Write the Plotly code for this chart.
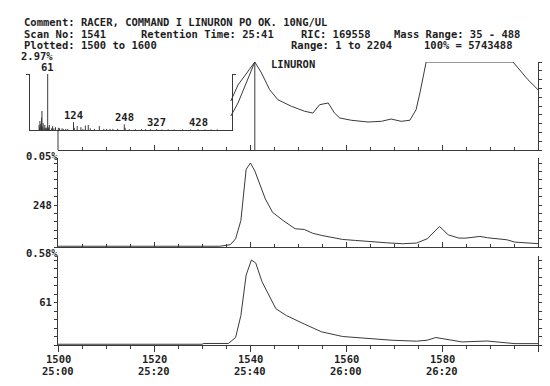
import plotly.graph_objects as go

# ---------------- data ----------------
header_line1 = ["Comment: RACER, COMMAND I LINURON PO OK. 10NG/UL"]
header_line2 = ["Scan No: 1541", "Retention Time: 25:41", "RIC: 169558", "Mass Range: 35 - 488"]
header_line3 = ["Plotted: 1500 to 1600", "Range: 1 to 2204", "100% = 5743488"]

scan_ticks = [1500, 1520, 1540, 1560, 1580]
time_ticks = ["25:00", "25:20", "25:40", "26:00", "26:20"]

marker_scan = 1541
compound_label = "LINURON"

# RIC (top panel), % of full scale; part hidden behind the spectrum inset is not drawn
ric_edge_a_scan = [1536.0, 1537.5, 1541.0]
ric_edge_a_pct = [55.7, 73.9, 100]
ric_edge_b_scan = [1536.0, 1537.5, 1541.0]
ric_edge_b_pct = [38.6, 53.4, 100]
ric_scan = [1541.0, 1542.4, 1544.1, 1545.8, 1548.6, 1551.4, 1553.1, 1554.5, 1556.3, 1557.6,
            1558.7, 1561.1, 1564.6, 1567.4, 1569.4, 1571.5, 1573.3, 1574.6, 1575.4, 1576.7,
            1594.8, 1596.5, 1597.9, 1600.0]
ric_pct = [100, 87.5, 68.5, 57.2, 49.7, 44.0, 42.0, 51.5, 53.4, 42.0,
           36.4, 33.8, 31.8, 32.6, 35.2, 32.6, 33.8, 45.8, 64.8, 100,
           100, 89.4, 79.9, 68.5]

# ion 248 (middle panel)
ion248_label = "248"
ion248_scale = "0.05%"
ion248_scan = [1500, 1510, 1512.5, 1515, 1533.7, 1535.9, 1537.0, 1538.1, 1539.2, 1540.1,
               1541.0, 1543.2, 1544.7, 1546.9, 1549.4, 1551.3, 1553.0, 1554.9, 1557.0, 1559.3,
               1562.0, 1565.9, 1568.5, 1571.8, 1574.7, 1576.9, 1579.5, 1581.3, 1583.5, 1585.0,
               1587.9, 1589.5, 1591.6, 1593.5, 1595.2, 1599.3, 1600]
ion248_pct = [0.9, 0.9, 1.8, 0.9, 0.9, 2.7, 9.8, 31.5, 92.6, 100,
              90.6, 57.1, 41.3, 31.5, 21.7, 20.9, 16.5, 13.8, 11.5, 9.0,
              7.8, 5.8, 5.0, 3.9, 4.7, 9.8, 24.4, 14.5, 10.6, 10.6,
              12.6, 11.0, 9.8, 8.6, 5.8, 4.7, 4.0]

# ion 61 (bottom panel)
ion61_label = "61"
ion61_scale = "0.58%"
ion61_scan = [1500, 1530.0, 1530.4, 1535.5, 1537.0, 1538.1, 1539.2, 1540.3, 1541.2, 1542.5,
              1545.4, 1547.6, 1551.3, 1554.9, 1559.3, 1565.9, 1569.6, 1574.7, 1576.9, 1578.7,
              1581.3, 1584.2, 1589.4, 1593.0, 1595.2, 1600]
ion61_pct = [0.9, 0.9, 1.8, 1.8, 8.8, 34.7, 82.4, 100, 96.4, 74.5,
             42.6, 34.6, 24.7, 15.5, 10.0, 6.8, 5.6, 4.5, 5.6, 8.8,
             6.0, 3.6, 4.7, 2.8, 1.6, 1.6]

# mass spectrum at scan 1541 (inset), % of base peak
ms_scale = "2.97%"
ms_mz = [40, 41, 42, 43, 44, 45, 46, 47, 48, 50, 52, 54, 56, 58, 60, 61, 62, 63, 65, 70,
         73, 76, 80, 87, 90, 96, 99, 105, 110, 124, 126, 133, 142, 147, 153, 160, 165, 175,
         187, 198, 205, 213, 220, 232, 248, 250, 260, 275, 290, 300, 312, 327, 340, 355,
         370, 390, 410, 428, 445, 460, 475]
ms_pct = [9, 4, 16, 6, 11, 8, 22, 34, 6, 12, 4, 9, 4, 3, 6, 100, 5, 3, 9, 3,
          7, 3, 5, 4, 3, 3, 2, 2, 2, 14, 4, 7, 5, 2, 8, 9, 3, 2,
          7, 2, 2, 2, 2, 2, 10, 4, 1.5, 1.5, 1.5, 1.5, 1.5, 1.5, 1, 1,
          1, 1, 1, 1.5, 1, 1, 1]
ms_labels = [61, 124, 248, 327, 428]

# ---------------- layout helpers ----------------
W, H = 550, 386
def px(x):
    return x / W
def py(y):
    return 1 - y / H

INK = "#3a3a3a"
TXT = "#1e1e1e"
FONT = "DejaVu Sans Mono"
FS = 10.5

fig = go.Figure()

def add_line(xs, ys, xa, ya, width=1):
    fig.add_trace(go.Scatter(x=xs, y=ys, mode="lines", xaxis=xa, yaxis=ya,
                             line=dict(color=INK, width=width), hoverinfo="skip"))

# top panel
add_line(ric_edge_a_scan, ric_edge_a_pct, "x", "y")
add_line(ric_edge_b_scan, ric_edge_b_pct, "x", "y")
add_line(ric_scan, ric_pct, "x", "y")
add_line([marker_scan, marker_scan], [0, 100], "x", "y")
# middle / bottom
add_line(ion248_scan, ion248_pct, "x2", "y2")
add_line(ion61_scan, ion61_pct, "x3", "y3")
# inset spectrum sticks
sx, sy = [], []
for m, v in zip(ms_mz, ms_pct):
    sx += [m, m, None]
    sy += [0, v, None]
add_line(sx, sy, "x4", "y4")

x_dom = [px(50), px(530)]
common_x = dict(range=[1500, 1600], domain=x_dom, showline=True, linecolor=INK, linewidth=1,
                showgrid=False, zeroline=False, showticklabels=False,
                tick0=1500, dtick=20, tickcolor=INK, tickwidth=1)

mid_top = 150
bot_top = 248
tfont = dict(family=FONT, size=FS, color=TXT, weight="bold")

fig.update_layout(
    width=W, height=H, margin=dict(l=0, r=0, t=0, b=0),
    paper_bgcolor="white", plot_bgcolor="rgba(0,0,0,0)", showlegend=False,
    font=dict(family=FONT, size=FS, color=TXT),
    xaxis=dict(common_x, anchor="y", ticks="inside", ticklen=5,
               minor=dict(dtick=5, ticks="inside", ticklen=3, tickcolor=INK)),
    yaxis=dict(domain=[py(142), py(54)], range=[0, 100], anchor="x", side="right",
               showline=True, linecolor=INK, linewidth=1, showgrid=False, zeroline=False,
               ticks="outside", dtick=10, ticklen=4, tickcolor=INK, showticklabels=False),
    xaxis2=dict(common_x, anchor="y2", ticks="inside", ticklen=5,
                minor=dict(dtick=5, ticks="inside", ticklen=3, tickcolor=INK)),
    yaxis2=dict(domain=[py(239), py(mid_top)], range=[0, (239 - mid_top) / 84 * 100], anchor="x2",
                showline=True, linecolor=INK, linewidth=1, mirror="ticks", showgrid=False,
                zeroline=False, ticks="outside", ticklen=3, tickcolor=INK,
                tickvals=[0, 10, 20, 30, 40, 50, 60, 70, 80, 90, 100],
                ticktext=["", "", "", "", "", ion248_label, "", "", "", "", ""],
                tickfont=tfont),
    xaxis3=dict(common_x, anchor="y3", ticks="outside", ticklen=6,
                minor=dict(dtick=5, ticks="outside", ticklen=3, tickcolor=INK)),
    yaxis3=dict(domain=[py(337), py(bot_top)], range=[0, (337 - bot_top) / 85 * 100], anchor="x3",
                showline=True, linecolor=INK, linewidth=1, mirror="ticks", showgrid=False,
                zeroline=False, ticks="outside", ticklen=3, tickcolor=INK,
                tickvals=[0, 10, 20, 30, 40, 50, 60, 70, 80, 90, 100],
                ticktext=["", "", "", "", "", ion61_label, "", "", "", "", ""],
                tickfont=tfont),
    xaxis4=dict(domain=[px(22), px(224)], range=[17.8, 511], anchor="y4", showline=True,
                linecolor=INK, linewidth=1, showgrid=False, zeroline=False,
                showticklabels=False, ticks=""),
    yaxis4=dict(domain=[py(122), py(66)], range=[0, 100], anchor="x4", showline=True,
                linecolor=INK, linewidth=1, mirror="ticks", showgrid=False, zeroline=False,
                ticks="outside", tickvals=[100], ticklen=3, tickcolor=INK,
                showticklabels=False),
)

ann = []
def text(x, y, s, anchor="left", xref="paper", yref="paper", yanchor="middle", yshift=0):
    ann.append(dict(x=x, y=y, xref=xref, yref=yref, text=s, showarrow=False,
                    xanchor=anchor, yanchor=yanchor, yshift=yshift, borderpad=0,
                    font=tfont))

# header
text(px(15), py(13.5), header_line1[0])
for s, x in zip(header_line2, [15, 132, 292, 385]):
    text(px(x), py(25.5), s)
for s, x in zip(header_line3, [15, 282, 415]):
    text(px(x), py(37), s)

text(px(46), py(47.5), ms_scale, anchor="right")
text(px(51), py(148), ion248_scale, anchor="right")
text(px(51), py(245), ion61_scale, anchor="right")
text(px(262), py(56), compound_label)

# spectrum peak labels
for m in ms_labels:
    v = ms_pct[ms_mz.index(m)]
    text(m, v, str(m), anchor="center", xref="x4", yref="y4", yanchor="bottom", yshift=0)

# bottom scan / time labels
for s, t in zip(scan_ticks, time_ticks):
    text(s, py(350.5), str(s), anchor="center", xref="x3")
    text(s, py(363), t, anchor="center", xref="x3")

fig.update_layout(annotations=ann)

# visible stub of the top panel's left axis (rest hidden behind the inset)
fig.add_shape(type="line", xref="paper", yref="paper", x0=px(50), x1=px(50),
              y0=py(122.5), y1=py(142), line=dict(color=INK, width=1))

fig.write_html("out.html")
